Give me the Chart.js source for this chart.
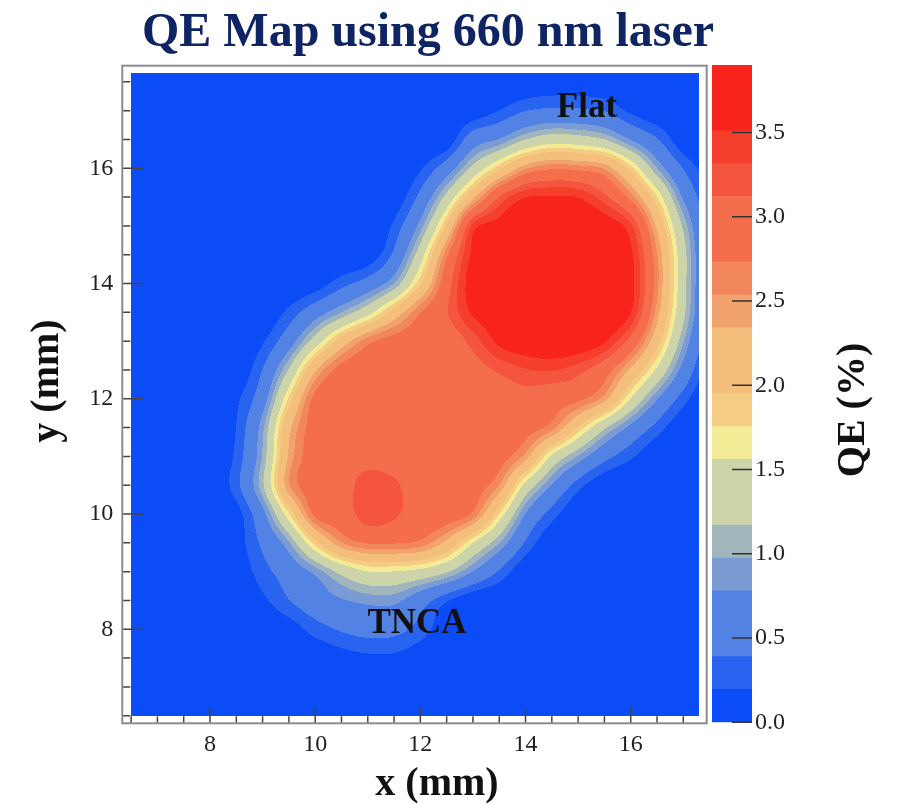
<!DOCTYPE html>
<html>
<head>
<meta charset="utf-8">
<script src="https://cdn.jsdelivr.net/npm/chart.js@4.4.1/dist/chart.umd.min.js"></script>
<style>
  html, body { margin: 0; padding: 0; background: #ffffff; }
  #wrap { position: relative; width: 897px; height: 804px; }
  #map { position: absolute; left: 0; top: 0; }
  #bar { position: absolute; left: 700px; top: 0; }
</style>
</head>
<body>
<div id="wrap">
  <canvas id="map" width="897" height="804"></canvas>
  <canvas id="bar" width="197" height="804"></canvas>
</div>
<script>
// Scan grid (mm); rows run from top (y = 17.5) to bottom (y = 6.5)
const xNodes = [6.5, 7, 7.5, 8, 8.5, 9, 9.5, 10, 10.5, 11, 11.5, 12, 12.5, 13, 13.5, 14, 14.5, 15, 15.5, 16, 16.5, 17, 17.5];
const yNodes = [17.5, 17, 16.5, 16, 15.5, 15, 14.5, 14, 13.5, 13, 12.5, 12, 11.5, 11, 10.5, 10, 9.5, 9, 8.5, 8, 7.5, 7, 6.5];

// Measured QE (%) at each grid node
const qeRows = [
  [0,0,0,0,0,0,0,0,0,0,0,0,0,0,0.02,0.05,0.07,0.07,0.05,0.02,0,0,0],
  [0,0,0,0,0,0,0,0,0,0,0,0,0,0.05,0.2,0.38,0.45,0.44,0.38,0.15,0.03,0,0],
  [0,0,0,0,0,0,0,0,0,0,0,0,0.03,0.58,0.8,1.17,1.38,1.33,1.17,0.77,0.41,0.05,0],
  [0,0,0,0,0,0,0,0,0,0,0,0.17,0.58,1.27,1.9,2.5,2.7,2.65,2.5,1.85,0.98,0.38,0.1],
  [0,0,0,0,0,0,0,0,0,0,0.05,0.48,1.28,2.24,3.12,3.5,3.53,3.5,3.19,2.65,1.77,0.74,0.2],
  [0,0,0,0,0,0,0,0,0,0,0.24,0.88,2.0,3.38,3.6,3.7,3.75,3.75,3.68,3.36,2.28,1.12,0.31],
  [0,0,0,0,0,0,0,0,0,0.05,0.46,1.38,2.67,3.57,3.7,3.78,3.82,3.82,3.75,3.56,2.55,1.3,0.35],
  [0,0,0,0,0,0,0,0.08,0.31,0.54,0.98,1.92,2.96,3.65,3.75,3.82,3.85,3.85,3.8,3.6,2.6,1.3,0.35],
  [0,0,0,0,0,0.02,0.25,0.61,0.98,1.43,2.1,2.72,3.1,3.55,3.7,3.8,3.85,3.85,3.8,3.52,2.45,1.25,0.33],
  [0,0,0,0,0,0.17,0.61,1.35,2.12,2.65,2.85,2.9,2.92,3.21,3.57,3.7,3.75,3.72,3.54,3.0,2.09,1.0,0.2],
  [0,0,0,0,0.03,0.4,1.2,2.3,2.85,2.9,2.92,2.93,2.93,3.0,3.16,3.3,3.33,3.2,2.9,2.28,1.5,0.66,0.08],
  [0,0,0,0,0.15,0.62,1.8,2.82,2.92,2.95,2.95,2.95,2.95,2.95,2.95,3.0,2.9,2.8,2.43,1.55,0.8,0.28,0],
  [0,0,0,0,0.2,0.92,2.25,2.88,2.95,2.95,2.95,2.95,2.95,2.95,2.95,2.86,2.62,1.92,1.22,0.7,0.3,0.03,0],
  [0,0,0,0.01,0.25,1.0,2.38,2.9,2.95,3.0,2.97,2.95,2.95,2.93,2.86,2.45,1.5,0.95,0.5,0.23,0.03,0,0],
  [0,0,0,0.03,0.31,1.12,2.5,2.9,2.97,3.25,3.16,2.97,2.95,2.88,2.53,1.46,0.77,0.28,0.03,0,0,0,0],
  [0,0,0,0,0.1,0.68,1.74,2.8,2.93,3.25,3.16,2.95,2.93,2.68,1.75,0.77,0.29,0.02,0,0,0,0,0],
  [0,0,0,0,0.1,0.45,0.95,1.86,2.52,2.75,2.75,2.66,2.25,1.57,0.98,0.36,0.03,0,0,0,0,0,0],
  [0,0,0,0,0.05,0.3,0.55,0.85,1.27,1.55,1.55,1.45,1.2,0.77,0.36,0.03,0,0,0,0,0,0,0],
  [0,0,0,0,0,0.15,0.38,0.6,0.75,0.85,0.85,0.55,0.22,0.02,0,0,0,0,0,0,0,0,0],
  [0,0,0,0,0,0,0.08,0.28,0.42,0.5,0.48,0.3,0.05,0,0,0,0,0,0,0,0,0,0],
  [0,0,0,0,0,0,0,0.02,0.1,0.15,0.15,0.06,0,0,0,0,0,0,0,0,0,0,0],
  [0,0,0,0,0,0,0,0,0,0,0,0,0,0,0,0,0,0,0,0,0,0,0],
  [0,0,0,0,0,0,0,0,0,0,0,0,0,0,0,0,0,0,0,0,0,0,0]
];

// Scanned area (mm)
const scanX = [6.5, 17.3];
const scanY = [6.5, 17.65];

// Contour levels (QE %) and the fill colour of each band
const levels = [0, 0.195, 0.39, 0.585, 0.78, 0.975, 1.17, 1.365, 1.56, 1.755, 1.95,
                2.145, 2.34, 2.535, 2.73, 2.925, 3.12, 3.315, 3.51, 3.705, 3.9];
const bandColors = [
  '#0c4cf6', '#2864f0', '#5283e4', '#5283e4', '#7a9bd4', '#a0b6bc', '#cdd4aa', '#cdd4aa',
  '#f3eb96', '#f5cc84', '#f3bf7a', '#f3bf7a', '#f2a26c', '#f3875c', '#f46e4b', '#f46e4b',
  '#f5553e', '#f63e2d', '#f8241c', '#f8241c'
];

// Axis ticks
const xTickValues = [6.5, 7, 7.5, 8, 8.5, 9, 9.5, 10, 10.5, 11, 11.5, 12, 12.5, 13, 13.5, 14, 14.5, 15, 15.5, 16, 16.5, 17];
const yTickValues = [6.5, 7, 7.5, 8, 8.5, 9, 9.5, 10, 10.5, 11, 11.5, 12, 12.5, 13, 13.5, 14, 14.5, 15, 15.5, 16, 16.5, 17, 17.5];
const xLabelValues = [8, 10, 12, 14, 16];
const yLabelValues = [8, 10, 12, 14, 16];
const qeTickValues = [0, 0.5, 1.0, 1.5, 2.0, 2.5, 3.0, 3.5];

const serif = "'Liberation Serif', 'Times New Roman', serif";

// ---- interpolation of the grid ----
function clampIdx(i, n) { return i < 0 ? 0 : (i >= n ? n - 1 : i); }
function cubic(p0, p1, p2, p3, t) {
  return p1 + 0.5 * t * (p2 - p0 + t * (2 * p0 - 5 * p1 + 4 * p2 - p3 + t * (3 * (p1 - p2) + p3 - p0)));
}
function sampleQE(xv, yv) {
  const nx = xNodes.length, ny = yNodes.length;
  const gx = (xv - xNodes[0]) / (xNodes[1] - xNodes[0]);
  const gy = (yNodes[0] - yv) / (yNodes[0] - yNodes[1]);
  const ix = Math.floor(gx), iy = Math.floor(gy);
  const tx = gx - ix, ty = gy - iy;
  const col = [];
  for (let m = -1; m <= 2; m++) {
    const r = qeRows[clampIdx(iy + m, ny)];
    col.push(cubic(r[clampIdx(ix - 1, nx)], r[clampIdx(ix, nx)], r[clampIdx(ix + 1, nx)], r[clampIdx(ix + 2, nx)], tx));
  }
  return cubic(col[0], col[1], col[2], col[3], ty);
}
function hexToRgb(h) {
  return [parseInt(h.slice(1, 3), 16), parseInt(h.slice(3, 5), 16), parseInt(h.slice(5, 7), 16)];
}
const bandRgb = bandColors.map(hexToRgb);
function bandIndex(v) {
  let k = 0;
  while (k < bandColors.length - 1 && v >= levels[k + 1]) k++;
  return k;
}

// Filled contour map painted through the chart's own scales
const contourFill = {
  id: 'contourFill',
  beforeDatasetsDraw(chart) {
    const { ctx, scales: { x, y } } = chart;
    const px0 = Math.round(x.getPixelForValue(scanX[0]));
    const px1 = Math.round(x.getPixelForValue(scanX[1]));
    const py0 = Math.round(y.getPixelForValue(scanY[1]));
    const py1 = Math.round(y.getPixelForValue(scanY[0]));
    const w = px1 - px0, h = py1 - py0;
    const img = ctx.createImageData(w, h);
    const d = img.data;
    for (let j = 0; j < h; j++) {
      const yv = y.getValueForPixel(py0 + j + 0.5);
      for (let i = 0; i < w; i++) {
        const xv = x.getValueForPixel(px0 + i + 0.5);
        const c = bandRgb[bandIndex(sampleQE(xv, yv))];
        const o = (j * w + i) * 4;
        d[o] = c[0]; d[o + 1] = c[1]; d[o + 2] = c[2]; d[o + 3] = 255;
      }
    }
    ctx.putImageData(img, px0, py0);
  }
};

// Frame, inward tick marks and text
const mapDecor = {
  id: 'mapDecor',
  afterDraw(chart) {
    const { ctx, chartArea: a, scales: { x, y } } = chart;
    ctx.save();
    ctx.strokeStyle = '#444';
    ctx.lineWidth = 1.5;
    ctx.beginPath();
    xTickValues.forEach(v => {
      const p = x.getPixelForValue(v);
      const len = xLabelValues.includes(v) ? 16 : 7;
      ctx.moveTo(p, a.bottom); ctx.lineTo(p, a.bottom - len);
    });
    yTickValues.forEach(v => {
      const p = y.getPixelForValue(v);
      const len = yLabelValues.includes(v) ? 21 : 8;
      ctx.moveTo(a.left, p); ctx.lineTo(a.left + len, p);
    });
    ctx.stroke();
    ctx.strokeStyle = '#8c8c8c';
    ctx.lineWidth = 2;
    ctx.strokeRect(a.left, a.top, a.right - a.left, a.bottom - a.top);

    ctx.fillStyle = '#0f2462';
    ctx.textAlign = 'center';
    ctx.textBaseline = 'alphabetic';
    ctx.font = 'bold 48px ' + serif;
    ctx.fillText('QE Map using 660 nm laser', 428, 46);

    ctx.fillStyle = '#111';
    ctx.font = 'bold 40px ' + serif;
    ctx.fillText('x (mm)', 437, 795);
    ctx.save();
    ctx.translate(58, 381);
    ctx.rotate(-Math.PI / 2);
    ctx.fillText('y (mm)', 0, 0);
    ctx.restore();

    ctx.font = 'bold 35px ' + serif;
    ctx.fillText('Flat', 587, 117);
    ctx.fillText('TNCA', 417, 633);
    ctx.restore();
  }
};

const gridPoints = [];
qeRows.forEach((row, j) => row.forEach((v, i) => gridPoints.push({ x: xNodes[i], y: yNodes[j], v })));

new Chart(document.getElementById('map'), {
  type: 'scatter',
  data: { datasets: [{ data: gridPoints, pointRadius: 0, pointHoverRadius: 0 }] },
  options: {
    responsive: false,
    animation: false,
    devicePixelRatio: 1,
    events: [],
    layout: { padding: { left: 62.3, right: 190.3, top: 65.7, bottom: 40.7 } },
    plugins: { legend: { display: false }, tooltip: { enabled: false } },
    scales: {
      x: {
        type: 'linear', position: 'bottom', min: 6.332, max: 17.445,
        afterBuildTicks(s) { s.ticks = xTickValues.map(v => ({ value: v })); },
        afterFit(s) { s.height = 40; },
        ticks: {
          autoSkip: false, maxRotation: 0, padding: 7, color: '#222',
          font: { family: serif, size: 24 },
          callback: v => (xLabelValues.includes(v) ? String(v) : '')
        },
        grid: { display: false, drawTicks: false },
        border: { display: false }
      },
      y: {
        type: 'linear', position: 'left', min: 6.369, max: 17.78,
        afterBuildTicks(s) { s.ticks = yTickValues.map(v => ({ value: v })); },
        afterFit(s) { s.width = 60; },
        ticks: {
          autoSkip: false, padding: 9, color: '#222',
          font: { family: serif, size: 24 },
          callback: v => (yLabelValues.includes(v) ? String(v) : '')
        },
        grid: { display: false, drawTicks: false },
        border: { display: false }
      }
    }
  },
  plugins: [contourFill, mapDecor]
});

// ---- colour scale ----
const barDecor = {
  id: 'barDecor',
  afterDraw(chart) {
    const { ctx, chartArea: a, scales: { y } } = chart;
    ctx.save();
    ctx.strokeStyle = '#333';
    ctx.lineWidth = 1.5;
    ctx.beginPath();
    qeTickValues.forEach(v => {
      const p = y.getPixelForValue(v);
      ctx.moveTo(a.right - 20, p); ctx.lineTo(a.right, p);
    });
    ctx.stroke();
    ctx.fillStyle = '#111';
    ctx.font = 'bold 40px ' + serif;
    ctx.textAlign = 'center';
    ctx.translate(164, 410);
    ctx.rotate(-Math.PI / 2);
    ctx.fillText('QE (%)', 0, 0);
    ctx.restore();
  }
};

new Chart(document.getElementById('bar'), {
  type: 'bar',
  data: {
    labels: ['QE'],
    datasets: bandColors.map((c, i) => ({
      data: [[levels[i], levels[i + 1]]],
      backgroundColor: c,
      borderWidth: 0,
      grouped: false,
      barPercentage: 1,
      categoryPercentage: 1
    }))
  },
  options: {
    responsive: false,
    animation: false,
    devicePixelRatio: 1,
    events: [],
    layout: { padding: { left: 12, right: 100, top: 65, bottom: 81.7 } },
    plugins: { legend: { display: false }, tooltip: { enabled: false } },
    scales: {
      x: { display: false },
      y: {
        position: 'right', min: 0, max: 3.9,
        afterBuildTicks(s) { s.ticks = qeTickValues.map(v => ({ value: v })); },
        afterFit(s) { s.width = 45; },
        ticks: {
          padding: 3, color: '#222',
          font: { family: serif, size: 24 },
          callback: v => Number(v).toFixed(1)
        },
        grid: { display: false, drawTicks: false },
        border: { display: false }
      }
    }
  },
  plugins: [barDecor]
});
</script>
</body>
</html>
